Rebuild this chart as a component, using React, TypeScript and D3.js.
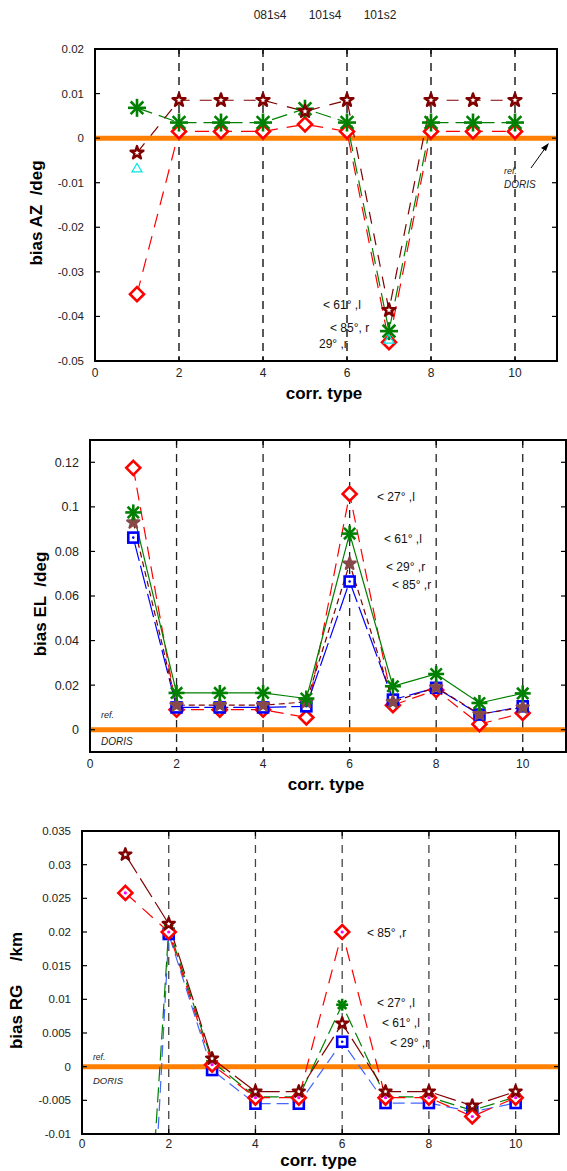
import * as d3 from 'd3';

const corrTypes = [1, 2, 3, 4, 5, 6, 7, 8, 9, 10];
const topLabels = ['081s4', '101s4', '101s2'];

// bias AZ /deg
const azStar = [-0.0033, 0.0085, 0.0085, 0.0085, 0.006, 0.0085, -0.0386, 0.0085, 0.0085, 0.0085];
const azAsterisk = [0.0068, 0.0035, 0.0035, 0.0035, 0.0066, 0.0035, -0.0433, 0.0035, 0.0035, 0.0035];
const azDiamond = [-0.035, 0.0015, 0.0015, 0.0015, 0.0031, 0.0015, -0.0458, 0.0015, 0.0015, 0.0015];
const azTriangleX = [1, 7];
const azTriangle = [-0.0068, -0.0452];
const azTicks = [-0.05, -0.04, -0.03, -0.02, -0.01, 0, 0.01, 0.02];

// bias EL /deg
const elDiamond = [0.1175, 0.009, 0.009, 0.009, 0.0055, 0.1058, 0.011, 0.0178, 0.0025, 0.0075];
const elAsterisk = [0.0975, 0.0165, 0.0165, 0.0165, 0.014, 0.088, 0.0195, 0.025, 0.012, 0.0163];
const elStar = [0.093, 0.011, 0.011, 0.011, 0.0125, 0.0745, 0.0125, 0.019, 0.007, 0.01];
const elSquare = [0.0862, 0.01, 0.01, 0.01, 0.0105, 0.0665, 0.0135, 0.0188, 0.0068, 0.0105];
const elTicks = [0, 0.02, 0.04, 0.06, 0.08, 0.1, 0.12];

// bias RG /km
const rgStar = [0.0315, 0.0212, 0.0012, -0.0037, -0.0037, 0.0064, -0.0037, -0.0037, -0.0058, -0.0037];
const rgDiamond = [0.0258, 0.02, 0.0003, -0.0046, -0.0046, 0.02, -0.0046, -0.0046, -0.0074, -0.0046];
const rgAsterisk = [-0.08, 0.0205, 0.0008, -0.0045, -0.0045, 0.0092, -0.0045, -0.0045, -0.0065, -0.0045];
const rgSquare = [-0.1, 0.0197, -0.0005, -0.0055, -0.0055, 0.0037, -0.0054, -0.0054, -0.0067, -0.0054];
const rgTicks = [-0.01, -0.005, 0, 0.005, 0.01, 0.015, 0.02, 0.025, 0.03, 0.035];

const xTicks = [0, 2, 4, 6, 8, 10];
const gridX = [2, 4, 6, 8, 10];

const FONT = 'Liberation Sans, Arial, sans-serif';
const ORANGE = '#ff8000';

type Marker = 'star' | 'asterisk' | 'diamond' | 'square' | 'triangle';
type Series = {
  xs: number[];
  ys: number[];
  marker: Marker;
  color: string;
  fill?: string;
  dash?: string; // no dash -> no connecting line
  lineColor?: string;
  size?: number;
};
type Note = { x: number; y: number; text: string };

function MarkerShape({ m, cx, cy, color, fill, size = 7 }: { m: Marker; cx: number; cy: number; color: string; fill?: string; size?: number }) {
  if (m === 'star') {
    const p = d3.symbol(d3.symbolStar, size * size * 1.05)();
    return <path d={p!} transform={`translate(${cx},${cy})`} fill={fill ?? '#fff'} stroke={color} strokeWidth={2.4} strokeLinejoin="round" />;
  }
  if (m === 'asterisk') {
    const r = size;
    return (
      <g transform={`translate(${cx},${cy})`} stroke={color} strokeWidth={2.6}>
        {[0, 45, 90, 135].map((a) => {
          const t = (a * Math.PI) / 180;
          return <line key={a} x1={-r * Math.cos(t)} y1={-r * Math.sin(t)} x2={r * Math.cos(t)} y2={r * Math.sin(t)} />;
        })}
      </g>
    );
  }
  if (m === 'diamond') {
    const r = size;
    return (
      <g>
        <path d={`M${cx},${cy - r}L${cx + r},${cy}L${cx},${cy + r}L${cx - r},${cy}Z`} fill="#fff" stroke={color} strokeWidth={2.6} />
        {fill && <circle cx={cx} cy={cy} r={1.6} fill={fill} />}
      </g>
    );
  }
  if (m === 'square') {
    const r = size;
    return (
      <g>
        <rect x={cx - r} y={cy - r} width={2 * r} height={2 * r} fill="#fff" stroke={color} strokeWidth={2.6} />
        <circle cx={cx} cy={cy} r={1.3} fill={color} />
      </g>
    );
  }
  const r = size;
  return <path d={`M${cx},${cy - r}L${cx + r},${cy + r * 0.7}L${cx - r},${cy + r * 0.7}Z`} fill="none" stroke={color} strokeWidth={1.2} />;
}

function Panel({
  id, left, right, top, bottom, yDomain, yTicks, tickFont, series, notes, yLabel, yLabelX, titleGap, xTickGap, ref1, gridColor,
}: {
  id: string; left: number; right: number; top: number; bottom: number;
  yDomain: [number, number]; yTicks: number[]; tickFont: number; series: Series[]; notes: Note[];
  yLabel: string; yLabelX: number; titleGap: number; xTickGap: number;
  ref1: { x: number; y1: number; y2: number; size: number }; gridColor: string;
}) {
  const x = d3.scaleLinear().domain([0, 11]).range([left, right]);
  const y = d3.scaleLinear().domain(yDomain).range([bottom, top]);
  const fmt = (v: number) => String(+v.toFixed(3));
  return (
    <g>
      <defs>
        <clipPath id={`clip-${id}`}>
          <rect x={left} y={top} width={right - left} height={bottom - top} />
        </clipPath>
      </defs>
      {gridX.map((g) => (
        <line key={g} x1={x(g)} x2={x(g)} y1={top} y2={bottom} stroke={gridColor} strokeWidth={1.3} strokeDasharray="8,6" />
      ))}
      <line x1={left} x2={right} y1={y(0)} y2={y(0)} stroke={ORANGE} strokeWidth={5} />
      <g clipPath={`url(#clip-${id})`}>
        {series.filter((s) => s.dash).map((s, i) => {
          const line = d3.line<number>().x((_, k) => x(s.xs[k])).y((d) => y(d));
          return (
            <path key={i} d={line(s.ys)!} fill="none" stroke={s.lineColor ?? s.color} strokeWidth={1.2} strokeDasharray={s.dash} />
          );
        })}
        {series.map((s, i) => (
          <g key={i}>
            {s.ys.map((v, k) => (
              <MarkerShape key={k} m={s.marker} cx={x(s.xs[k])} cy={y(v)} color={s.color} fill={s.fill} size={s.size} />
            ))}
          </g>
        ))}
      </g>
      {/* frame and ticks */}
      <rect x={left} y={top} width={right - left} height={bottom - top} fill="none" stroke="#000" strokeWidth={2} />
      {yTicks.map((t) => (
        <g key={t}>
          <line x1={left} x2={left + 5} y1={y(t)} y2={y(t)} stroke="#000" strokeWidth={1.2} />
          <line x1={right - 5} x2={right} y1={y(t)} y2={y(t)} stroke="#000" strokeWidth={1.2} />
          <text x={left - 11} y={y(t)} dy="0.35em" textAnchor="end" fontSize={tickFont} fontFamily={FONT} fill="#222">
            {fmt(t)}
          </text>
        </g>
      ))}
      {xTicks.map((t) => (
        <g key={t}>
          <line x1={x(t)} x2={x(t)} y1={top} y2={top + 5} stroke="#000" strokeWidth={1.2} />
          <line x1={x(t)} x2={x(t)} y1={bottom - 5} y2={bottom} stroke="#000" strokeWidth={1.2} />
          <text x={x(t)} y={bottom + xTickGap} textAnchor="middle" fontSize={12} fontFamily={FONT} fill="#222">
            {t}
          </text>
        </g>
      ))}
      <text x={(left + right) / 2 - 2} y={bottom + titleGap} textAnchor="middle" fontSize={17} fontWeight="bold" fontFamily={FONT}>
        corr. type
      </text>
      <text
        transform={`translate(${yLabelX},${(top + bottom) / 2 + 8}) rotate(-90)`}
        textAnchor="middle" fontSize={17} fontWeight="bold" fontFamily={FONT} style={{ whiteSpace: 'pre' }}
      >
        {yLabel}
      </text>
      {notes.map((n, i) => (
        <text key={i} x={n.x} y={n.y} dy="0.35em" fontSize={12} fontFamily={FONT} fill="#111">
          {n.text}
        </text>
      ))}
      <text x={ref1.x} y={ref1.y1} dy="0.35em" fontSize={ref1.size} fontStyle="italic" fontFamily={FONT} fill="#222">ref.</text>
      <text x={ref1.x} y={ref1.y2} dy="0.35em" fontSize={ref1.size + 1} fontStyle="italic" fontFamily={FONT} fill="#222">DORIS</text>
    </g>
  );
}

export default function App() {
  const azSeries: Series[] = [
    { xs: corrTypes, ys: azDiamond, marker: 'diamond', color: '#ff0000', dash: '14,9', size: 7 },
    { xs: corrTypes, ys: azAsterisk, marker: 'asterisk', color: '#008000', dash: '16,7', size: 9 },
    { xs: corrTypes, ys: azStar, marker: 'star', color: '#800000', dash: '12,10', size: 7 },
    { xs: azTriangleX, ys: azTriangle, marker: 'triangle', color: '#00e5e5', size: 5 },
  ];
  const elSeries: Series[] = [
    { xs: corrTypes, ys: elDiamond, marker: 'diamond', color: '#ff0000', dash: '13,7', size: 7 },
    { xs: corrTypes, ys: elSquare, marker: 'square', color: '#0000ff', dash: '24,5', size: 5 },
    { xs: corrTypes, ys: elStar, marker: 'star', color: '#87494a', fill: '#87494a', dash: '6,4', lineColor: '#800000', size: 6.5 },
    { xs: corrTypes, ys: elAsterisk, marker: 'asterisk', color: '#008000', dash: '30,0', size: 8 },
  ];
  const rgSeries: Series[] = [
    { xs: corrTypes, ys: rgSquare, marker: 'square', color: '#0000ff', dash: '12,6', lineColor: '#4466ff', size: 5 },
    { xs: corrTypes, ys: rgAsterisk, marker: 'asterisk', color: '#008000', dash: '15,6', size: 6 },
    { xs: corrTypes, ys: rgDiamond, marker: 'diamond', color: '#ff0000', fill: '#ff00ff', dash: '14,9', size: 7 },
    { xs: corrTypes, ys: rgStar, marker: 'star', color: '#800000', dash: '22,6', size: 6.5 },
  ];

  return (
    <svg width={567} height={1171} style={{ position: 'absolute', left: 0, top: 0, background: '#fff' }}>
      {topLabels.map((t, i) => (
        <text key={t} x={270 + i * 55} y={19} textAnchor="middle" fontSize={12} fontFamily={FONT} fill="#222">
          {t}
        </text>
      ))}
      <Panel
        id="az" left={95} right={557} top={49} bottom={361} yDomain={[-0.05, 0.02]} yTicks={azTicks} tickFont={11.5}
        series={azSeries} yLabel="bias AZ  /deg" yLabelX={42} titleGap={38} xTickGap={16} gridColor="#000"
        notes={[
          { x: 323, y: 305, text: '< 61° ,l' },
          { x: 330, y: 328, text: '< 85°, r' },
          { x: 319, y: 344, text: '29° ,r' },
        ]}
        ref1={{ x: 504, y1: 171, y2: 184, size: 9 }}
      />
      <line x1={531} y1={168} x2={546} y2={147} stroke="#000" strokeWidth={1} />
      <path d="M549,143 L541,148 L546,151 Z" fill="#000" />
      <Panel
        id="el" left={90} right={566} top={440} bottom={752} yDomain={[-0.01, 0.13]} yTicks={elTicks} tickFont={12.5}
        series={elSeries} yLabel="bias EL  /deg" yLabelX={46} titleGap={38} xTickGap={16} gridColor="#222"
        notes={[
          { x: 377, y: 497, text: '< 27° ,l' },
          { x: 384, y: 539, text: '< 61° ,l' },
          { x: 386, y: 567, text: '< 29° ,r' },
          { x: 392, y: 585, text: '< 85° ,r' },
        ]}
        ref1={{ x: 101, y1: 715, y2: 741, size: 9 }}
      />
      <Panel
        id="rg" left={82} right={559} top={831} bottom={1134} yDomain={[-0.01, 0.035]} yTicks={rgTicks} tickFont={11.5}
        series={rgSeries} yLabel="bias RG     /km" yLabelX={22} titleGap={32} xTickGap={14} gridColor="#444"
        notes={[
          { x: 367, y: 933, text: '< 85° ,r' },
          { x: 377, y: 1003, text: '< 27° ,l' },
          { x: 382, y: 1023, text: '< 61° ,l' },
          { x: 390, y: 1043, text: '< 29° ,r' },
        ]}
        ref1={{ x: 93, y1: 1057, y2: 1081, size: 8.5 }}
      />
    </svg>
  );
}
